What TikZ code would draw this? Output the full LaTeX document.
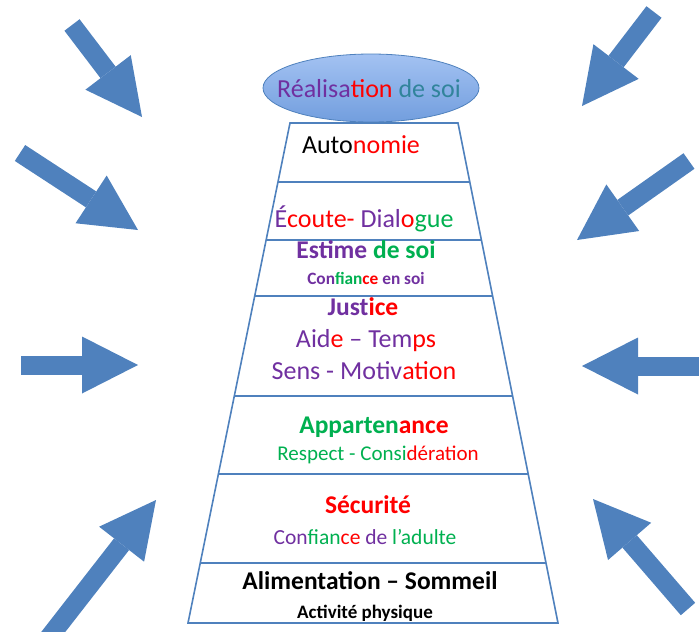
\documentclass[tikz,border=0pt]{standalone}
\usepackage{fontspec}
\setmainfont{Carlito}
\usetikzlibrary{arrows.meta,shapes.geometric,calc}
\definecolor{pblue}{HTML}{4F81BD}
\definecolor{cpur}{HTML}{7030A0}
\definecolor{cred}{HTML}{FF0000}
\definecolor{cgrn}{HTML}{00B050}
\definecolor{cteal}{HTML}{31849B}
\definecolor{elltop}{HTML}{A3C2F2}
\definecolor{ellbot}{HTML}{729EDE}
\newcommand{\fs}[1]{\fontsize{#1}{#1}\selectfont}
\begin{document}
\begin{tikzpicture}[x=1pt,y=-1pt,
  bigarrow/.style={line width=19pt, draw=pblue, line cap=butt,
    -{Triangle[width=57pt,length=56pt,line width=0pt]}},
  pyr/.style={draw=pblue, line width=1.6pt},
  lbl/.style={anchor=base, inner sep=0pt, font=\fs{26}},
  lblb/.style={anchor=base, inner sep=0pt, font=\fs{25.5}\bfseries}]
\useasboundingbox (0,0) rectangle (699,632);

% arrows
\coordinate (l1t) at (72,25);   \coordinate (l1h) at (142,117);
\coordinate (l2t) at (20,153);  \coordinate (l2h) at (138,230);
\coordinate (l3t) at (21,365);  \coordinate (l3h) at (138,365);
\coordinate (l4t) at (47,640);  \coordinate (l4h) at (156,500);
\coordinate (r1t) at (654,12);  \coordinate (r1h) at (582,106);
\coordinate (r2t) at (689,161); \coordinate (r2h) at (577,240);
\coordinate (r3t) at (705,366); \coordinate (r3h) at (582,366);
\coordinate (r4t) at (688,609); \coordinate (r4h) at (593,499);
\foreach \a in {l1,l2,l3,l4,r1,r2,r3,r4}
  \draw[bigarrow] (\a t) -- (\a h);

% pyramid
\coordinate (TL) at (290,123);
\coordinate (TR) at (458,123);
\coordinate (BL) at (188,623);
\coordinate (BR) at (558,623);
\draw[pyr, line join=miter] (TL) -- (TR) -- (BR) -- (BL) -- cycle;
\foreach \yy in {182,240,296,396,474,563}
  \draw[pyr] ($(TL)!{(\yy-123)/500}!(BL)$) -- ($(TR)!{(\yy-123)/500}!(BR)$);

% ellipse
\node[ellipse, draw=pblue, line width=0.8pt, top color=elltop, bottom color=ellbot,
      minimum width=216pt, minimum height=68pt, inner sep=0pt] (top) at (371,88) {};
\node[lbl] (t0) at (369,97) {\textcolor{cpur}{Réalisa}\textcolor{cred}{tion} \textcolor{cteal}{de soi}};

% texts
\node[lbl] (t1) at (361,153) {Auto\textcolor{cred}{nomie}};
\node[lbl] (t2) at (364,227) {\textcolor{cpur}{É}\textcolor{cred}{coute-} \textcolor{cpur}{Dial}\textcolor{cred}{o}\textcolor{cgrn}{gue}};
\node[lblb] (t3) at (366,258) {\textcolor{cpur}{Estime} \textcolor{cgrn}{de soi}};
\node[lblb, font=\fs{17.3}\bfseries] (t4) at (366,284) {\textcolor{cpur}{Con}\textcolor{cgrn}{fian}\textcolor{cred}{ce} \textcolor{cpur}{en soi}};
\node[lblb] (t5) at (363,315) {\textcolor{cpur}{Just}\textcolor{cred}{ice}};
\node[lbl] (t6) at (366,347) {\textcolor{cpur}{Aid}\textcolor{cred}{e} \textcolor{cpur}{– Tem}\textcolor{cred}{ps}};
\node[lbl] (t7) at (364,379) {\textcolor{cpur}{Sens - Motiv}\textcolor{cred}{ation}};
\node[lblb] (t8) at (374,433) {\textcolor{cgrn}{Apparten}\textcolor{cred}{ance}};
\node[lbl, font=\fs{21}] (t9) at (378,460) {\textcolor{cgrn}{Respect - Consi}\textcolor{cred}{dération}};
\node[lblb] (t10) at (368,513) {\textcolor{cred}{Sécurité}};
\node[lbl, font=\fs{21.5}] (t11) at (365,544) {\textcolor{cpur}{Con}\textcolor{cgrn}{fian}\textcolor{cred}{ce} \textcolor{cpur}{de} \textcolor{cgrn}{l’adulte}};
\node[lblb] (t12) at (370,589) {Alimentation – Sommeil};
\node[lblb, font=\fs{19}\bfseries] (t13) at (365,618) {Activité physique};
\end{tikzpicture}
\end{document}
